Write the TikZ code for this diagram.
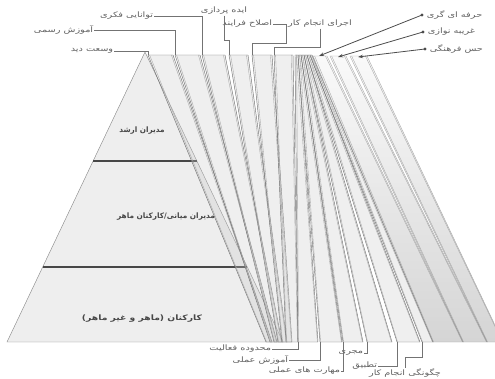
\documentclass[tikz,border=0pt]{standalone}
\usepackage{fontspec}
\usepackage{graphicx}
\newfontfamily\fa[Script=Arabic]{DejaVu Sans}
\TeXXeTstate=1
\usetikzlibrary{arrows.meta}
\newcommand\bandstrip[6]{% #1 style, #2 top y, #3 tl, #4 tr, #5 bl, #6 br
  \path[#1] (#3,#2) -- (#4,#2) -- (#6,342) -- (#5,342) -- cycle;
  \draw[edgeb] (#3+1.6,#2) -- (#5+0.6,342);
  \draw[edgeb] (#4-1.6,#2) -- (#6-0.6,342);
}
\begin{document}
\begin{tikzpicture}[x=1pt,y=-1pt,
  lbl/.style={font=\fa\fontsize{7.5}{8}\selectfont, text=black!62, inner sep=0.6pt},
  ptxt/.style={font=\fa\bfseries\fontsize{7.5}{8}\selectfont, text=black!72, inner sep=0pt},
  lead/.style={draw=black!55, line width=0.5pt},
  band/.style={fill=gray!45, fill opacity=0.28, draw=black!55, line width=0.45pt},
  aband/.style={top color=gray!8, bottom color=gray!60, opacity=0.55, draw=black!55, line width=0.45pt},
  edgeb/.style={draw=black!35, line width=0.35pt},
  thick/.style={draw=black!72, line width=2pt},
  arr/.style={draw=black!70, line width=0.8pt, -{Stealth[length=5pt,width=3.5pt]}},
  dotp/.style={fill=black!70}
]
\useasboundingbox (0,0) rectangle (495,379);
\begin{scope}
\clip (0,0) rectangle (495,379);
% pyramid
\fill[gray!13] (145,52) -- (283,342) -- (7,342) -- cycle;
\draw[black!45, line width=0.45pt] (145,52) -- (283,342) -- (7,342) -- cycle;
\draw[thick] (93,161) -- (197,161);
\draw[thick] (43,267) -- (247,267);
% left strips (wide on top)
\bandstrip{band}{55}{148}{173}{266}{272}
\bandstrip{band}{55}{175}{200}{270}{277}
\bandstrip{band}{55}{202}{225}{274}{282}
\bandstrip{band}{55}{229}{248}{278}{287}
\bandstrip{band}{55}{252}{272}{282}{292}
\bandstrip{band}{55}{274}{293}{286}{298}
% right strips (narrow on top)
\bandstrip{band}{55}{295}{298}{298}{318}
\bandstrip{band}{55}{298}{301}{320}{342}
\bandstrip{band}{55}{301}{304}{343}{363}
\bandstrip{band}{55}{304}{307}{367}{392}
\bandstrip{band}{55}{307}{310}{397}{420}
\bandstrip{band}{55}{310}{312}{422}{433}
% three arrow strips
\bandstrip{aband}{56}{313}{327}{433}{463}
\bandstrip{aband}{56}{330}{346}{463}{487}
\bandstrip{aband}{56}{350}{367}{487}{503}
\end{scope}
% pyramid texts
\node[ptxt] (p1) at (142,131) {\scalebox{0.97}[1]{\beginR مدیران ارشد\endR}};
\node[ptxt] (p2) at (166,217) {\scalebox{0.98}[1]{\beginR مدیران میانی/کارکنان ماهر\endR}};
\node[ptxt] (p3) at (142,319) {\scalebox{1.23}[1]{\beginR کارکنان (ماهر و غیر ماهر)\endR}};
% attach points
\coordinate (t1) at (148,55);
\coordinate (t2) at (175,55);
\coordinate (t3) at (202,55);
\coordinate (t4) at (229,55);
\coordinate (t5) at (252,55);
\coordinate (t6) at (274,55);
\coordinate (b1) at (298,342);
\coordinate (b2) at (320,342);
\coordinate (b3) at (343,342);
\coordinate (b4) at (367,342);
\coordinate (b5) at (397,342);
\coordinate (b6) at (422,342);
\coordinate (a1) at (319,56);
\coordinate (a2) at (338,57);
\coordinate (a3) at (358,57);
% top labels
\node[lbl, anchor=east] (l1) at (114,51) {\scalebox{1.3}[1]{\beginR وسعت دید\endR}};
\node[lbl, anchor=east] (l2) at (94,30) {\scalebox{1.3}[1]{\beginR آموزش رسمی\endR}};
\node[lbl, anchor=east] (l3) at (154,16) {\scalebox{1.3}[1]{\beginR توانایی فکری\endR}};
\node[lbl] (l4) at (224,11) {\scalebox{1.3}[1]{\beginR ایده پردازی\endR}};
\node[lbl, anchor=east] (l5) at (273,24) {\scalebox{1.3}[1]{\beginR اصلاح فرایند\endR}};
\node[lbl] (l6) at (320,24) {\scalebox{1.3}[1]{\beginR اجرای انجام کار\endR}};
\coordinate (k4) at (229,40);
\coordinate (k5) at (286,43);
\coordinate (k6) at (274,47);
\draw[lead] (l1.east) -| (t1);
\draw[lead] (l2.east) -| (t2);
\draw[lead] (l3.east) -| (t3);
\draw[lead] (l4.south) |- (k4) -- (t4);
\draw[lead] (l5.east) -| (k5) -| (t5);
\draw[lead] (l6.south) |- (k6) -- (t6);
% right arrow labels
\coordinate (d1) at (422,15);
\coordinate (d2) at (423,32);
\coordinate (d3) at (425,49);
\node[lbl, anchor=west] (r1) at (426,15) {\scalebox{1.3}[1]{\beginR حرفه ای گری\endR}};
\node[lbl, anchor=west] (r2) at (427,32) {\scalebox{1.3}[1]{\beginR غریبه نوازی\endR}};
\node[lbl, anchor=west] (r3) at (429,49) {\scalebox{1.3}[1]{\beginR حس فرهنگی\endR}};
\draw[arr] (d1) -- (a1);
\draw[arr] (d2) -- (a2);
\draw[arr] (d3) -- (a3);
\fill[dotp] (d1) circle (1.7pt);
\fill[dotp] (d2) circle (1.7pt);
\fill[dotp] (d3) circle (1.7pt);
% bottom labels
\node[lbl, anchor=east] (m1) at (272,349) {\scalebox{1.3}[1]{\beginR محدوده فعالیت\endR}};
\node[lbl, anchor=east] (m2) at (289,360) {\scalebox{1.3}[1]{\beginR آموزش عملی\endR}};
\node[lbl, anchor=east] (m3) at (341,371) {\scalebox{1.3}[1]{\beginR مهارت های عملی\endR}};
\node[lbl, anchor=east] (m4) at (364,353) {\scalebox{1.3}[1]{\beginR مجری\endR}};
\node[lbl, anchor=east] (m5) at (378,366) {\scalebox{1.3}[1]{\beginR تطبیق\endR}};
\node[lbl] (m6) at (405,373) {\scalebox{1.3}[1]{\beginR چگونگی انجام کار\endR}};
\coordinate (k12) at (422,357);
\draw[lead] (m1.east) -| (b1);
\draw[lead] (m2.east) -| (b2);
\draw[lead] (m3.east) -| (b3);
\draw[lead] (m4.east) -| (b4);
\draw[lead] (m5.east) -| (b5);
\draw[lead] (m6.north) |- (k12) -- (b6);
\end{tikzpicture}
\end{document}
